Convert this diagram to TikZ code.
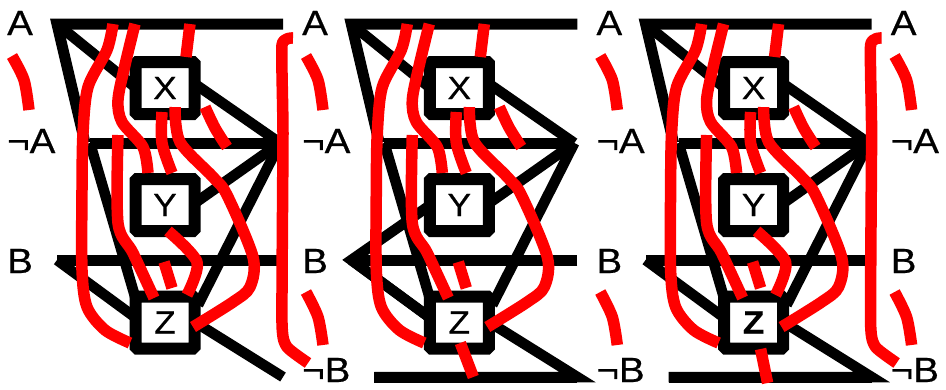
\documentclass[tikz,border=0pt]{standalone}
\usepackage{fontspec}
\setmainfont[FakeBold=0.5,FakeStretch=1.1]{Liberation Sans}
\tikzset{
  blk/.style={draw=black,line width=10.5pt,line join=miter,miter limit=10},
  hbar/.style={draw=black,line width=11pt,line join=miter,miter limit=10},
  wire/.style={draw=red,line width=11.5pt,line join=round},
  gatebox/.style={draw=black,fill=white,line width=12pt,minimum width=59pt,minimum height=52pt,inner sep=0pt,rounded corners=1.5pt,font=\fontsize{32}{32}\selectfont},
  lab/.style={anchor=base west,inner sep=0pt,font=\fontsize{35}{35}\selectfont}
}
% #1 suffix, #2 panel index
\newcommand\panelfig[2]{
\begin{scope}[xshift=#2*294.3pt]
  \coordinate (TL#1) at (57,24);
  \coordinate (TR#1) at (283,24);
  \coordinate (NL#1) at (85,143);
  \coordinate (NS#1) at (90,143);
  \coordinate (AP#1) at (280,143);
  \coordinate (BL#1) at (57,260);
  \coordinate (BR#1) at (283,260);
  \coordinate (NB#1) at (283,377);
  \coordinate (NC#1) at (80,377);
  \draw[hbar] (TR#1) -- (TL#1) -- (NL#1);
  \draw[blk] (TL#1) -- (136,88);
  \draw[hbar] (NS#1) -- (AP#1);
  \draw[hbar] (BR#1) -- (BL#1);
  \draw[blk] (BL#1) -- (136,318);
  \draw[blk] (NS#1) -- (136,300);
  \draw[blk] (195,84) -- (AP#1);
  \draw[blk] (195,203) -- (AP#1);
  \draw[blk] (198,305) -- (AP#1);
  \ifnum#2=0
    \draw[blk] (198,324) -- (NB#1);
  \else
    \draw[blk] (198,324) -- (NB#1) -- (NC#1);
    \draw[hbar] (NB#1) -- (NC#1);
  \fi
  \ifnum#2=1
    \draw[blk,line join=miter] (136,205) -- (BL#1) -- (136,318);
  \fi
  \node[gatebox] (X#1) at (165,88) {X};
  \node[gatebox] (Y#1) at (165,205) {Y};
  \node[gatebox] (Z#1) at (165,322.5) {\ifnum#2=2 \bfseries\fi Z};
  % red wires
  \draw[wire] plot[smooth,tension=.5] coordinates {(113,24) (107,50) (88,87) (83,133) (82,190) (82,270) (87,307) (105,330) (130,343)};
  \draw[wire] plot[smooth,tension=.5] coordinates {(135,24) (125,65) (118,100) (122,122) (143,147) (148,173)};
  \draw[wire] (190,24) -- (186,57);
  \draw[wire] plot[smooth,tension=.5] coordinates {(162,112) (162,143) (172,173)};
  \draw[wire] plot[smooth,tension=.5] coordinates {(175,107) (180,142) (213,177) (227,195) (253,257) (250,287) (233,302) (193,327)};
  \draw[wire] plot[smooth,tension=.5] coordinates {(205,107) (215,128) (227,147)};
  \draw[wire] plot[smooth,tension=.5] coordinates {(118,135) (118,223) (133,253) (154,298)};
  \draw[wire] plot[smooth,tension=.5] coordinates {(164,262) (172,288)};
  \ifnum#2=1\else
    \draw[wire] plot[smooth,tension=.5] coordinates {(168,231) (197,262) (187,295)};
    \draw[wire] plot[smooth,tension=.3] coordinates {(293,38) (282,45) (283,133) (282,323) (287,347) (308,363)};
  \fi
  \ifnum#2=1
    \draw[wire] (166,343) -- (179,377);
  \fi
  \ifnum#2=2
    \draw[wire] (172,349) -- (179,383);
  \fi
  % labels and curves to the right of the panel
  \node[lab] (LA#1) at (302,35) {A};
  \node[lab] (LN#1) at (302,153) {¬A};
  \node[lab] (LB#1) at (302,273) {B};
  \node[lab] (LM#1) at (302,382) {¬B};
  \draw[wire] plot[smooth,tension=.5] coordinates {(306,56) (318,80) (323,110)};
  \draw[wire] plot[smooth,tension=.5] coordinates {(306,292) (318,317) (323,345)};
\end{scope}
}
\begin{document}
\begin{tikzpicture}[x=1pt,y=-1pt]
  \useasboundingbox (0,0) rectangle (946,389);
  \node[lab] (L0A) at (7,35) {A};
  \node[lab] (L0N) at (7,153) {¬A};
  \node[lab] (L0B) at (7,273) {B};
  \draw[wire] plot[smooth,tension=.5] coordinates {(12,56) (24,80) (29,110)};
  \panelfig{a}{0}
  \panelfig{b}{1}
  \panelfig{c}{2}
\end{tikzpicture}
\end{document}
